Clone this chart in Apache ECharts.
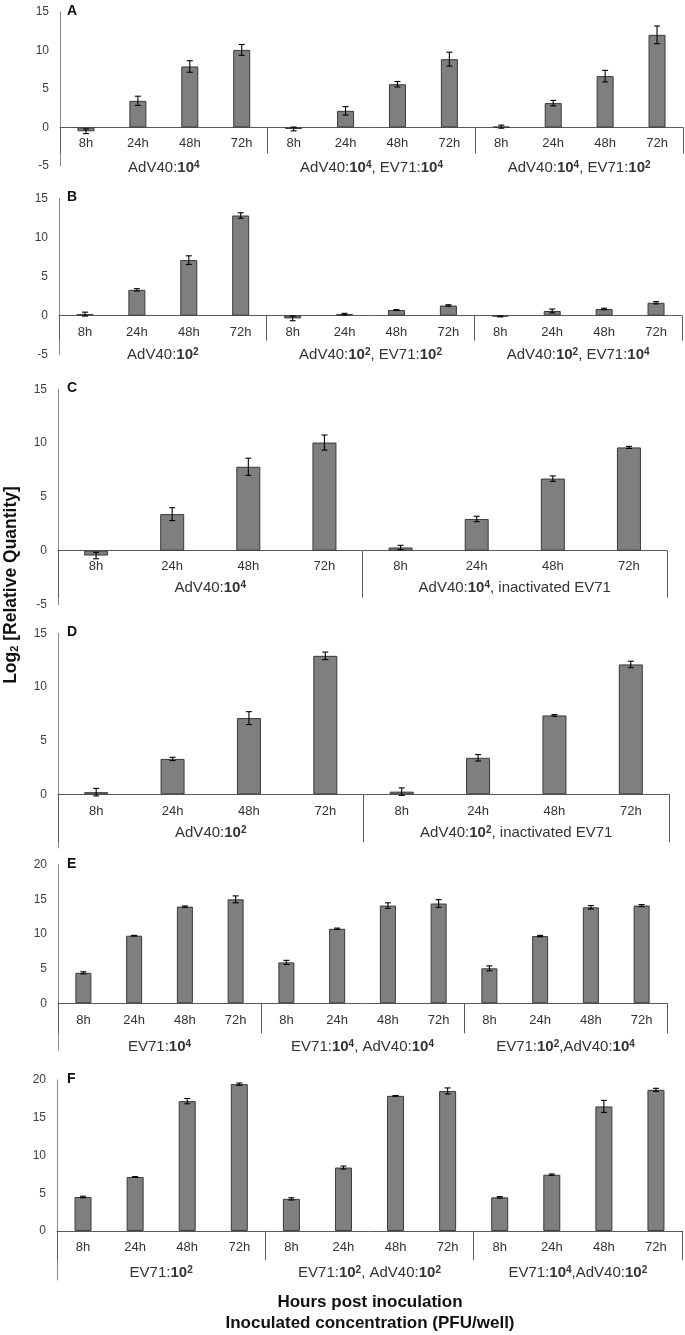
<!DOCTYPE html>
<html>
<head>
<meta charset="UTF-8">
<title>Log2 relative quantity by hours post inoculation</title>
<script src="https://cdn.jsdelivr.net/npm/echarts@6/dist/echarts.min.js"></script>
</head>
<body style="margin:0;background:#fff">
<div id="main" style="width:685px;height:1335px"></div>
<script>
// hour categories repeated inside each inoculation group
var hours = ['8h', '24h', '48h', '72h'];

var groupsA = ['AdV40:10^4', 'AdV40:10^4, EV71:10^4', 'AdV40:10^4, EV71:10^2'];
var valuesA = [-0.5, 3.45, 7.9, 10.05, -0.2, 2.15, 5.6, 8.85, 0.1, 3.15, 6.65, 12.0];
var errorsA = [0.3, 0.6, 0.75, 0.7, 0.25, 0.55, 0.35, 0.9, 0.2, 0.35, 0.75, 1.15];

var groupsB = ['AdV40:10^2', 'AdV40:10^2, EV71:10^2', 'AdV40:10^2, EV71:10^4'];
var valuesB = [0.2, 3.3, 7.1, 12.8, -0.35, 0.2, 0.72, 1.3, -0.1, 0.6, 0.85, 1.65];
var errorsB = [0.25, 0.15, 0.55, 0.35, 0.3, 0.1, 0.05, 0.1, 0.05, 0.25, 0.1, 0.15];

var groupsC = ['AdV40:10^4', 'AdV40:10^4, inactivated EV71'];
var valuesC = [-0.45, 3.4, 7.8, 10.05, 0.3, 2.95, 6.7, 9.6];
var errorsC = [0.3, 0.6, 0.8, 0.7, 0.2, 0.25, 0.25, 0.1];

var groupsD = ['AdV40:10^2', 'AdV40:10^2, inactivated EV71'];
var valuesD = [0.2, 3.3, 7.1, 12.9, 0.25, 3.4, 7.35, 12.1];
var errorsD = [0.35, 0.15, 0.6, 0.35, 0.35, 0.3, 0.08, 0.3];

var groupsE = ['EV71:10^4', 'EV71:10^4, AdV40:10^4', 'EV71:10^2,AdV40:10^4'];
var valuesE = [4.4, 9.75, 13.95, 15.0, 5.9, 10.75, 14.1, 14.4, 5.05, 9.7, 13.85, 14.1];
var errorsE = [0.15, 0.05, 0.1, 0.5, 0.3, 0.1, 0.4, 0.55, 0.35, 0.1, 0.25, 0.15];

var groupsF = ['EV71:10^2', 'EV71:10^2, AdV40:10^2', 'EV71:10^4,AdV40:10^2'];
var valuesF = [4.5, 7.15, 17.2, 19.45, 4.25, 8.4, 17.9, 18.55, 4.45, 7.45, 16.5, 18.7];
var errorsF = [0.1, 0.05, 0.35, 0.15, 0.15, 0.2, 0.05, 0.4, 0.1, 0.1, 0.8, 0.2];

var FONT = '"Liberation Sans", Arial, sans-serif';

// layout of each panel (pixel geometry)
// zeroY: where the value 0 sits; hour labels are placed relative to it
var panels = [
    {letter: 'A', groups: groupsA, values: valuesA, errors: errorsA, x0: 60, x1: 683, y0: 11.7, y1: 166, zeroY: 127.3, min: -5, max: 15, tick: 26, barW: 17, hourGap: 16, groupGap: 2, showNeg: true},
    {letter: 'B', groups: groupsB, values: valuesB, errors: errorsB, x0: 59, x1: 682, y0: 198.3, y1: 354.8, zeroY: 315.7, min: -5, max: 15, tick: 25, barW: 17, hourGap: 16.5, groupGap: 0, showNeg: true},
    {letter: 'C', groups: groupsC, values: valuesC, errors: errorsC, x0: 58, x1: 667, y0: 389.3, y1: 604.5, zeroY: 550.7, min: -5, max: 15, tick: 47, barW: 24, hourGap: 16, groupGap: -16.5, showNeg: true},
    {letter: 'D', groups: groupsD, values: valuesD, errors: errorsD, x0: 58, x1: 669, y0: 633.3, y1: 848, zeroY: 794.3, min: -5, max: 15, tick: 48, barW: 24, hourGap: 17, groupGap: -15, showNeg: false},
    {letter: 'E', groups: groupsE, values: valuesE, errors: errorsE, x0: 58, x1: 667, y0: 864.7, y1: 1050, zeroY: 1003.3, min: -6.74, max: 20, tick: 30, barW: 16, hourGap: 17, groupGap: -3, showNeg: false},
    {letter: 'F', groups: groupsF, values: valuesF, errors: errorsF, x0: 57, x1: 682, y0: 1080, y1: 1280, zeroY: 1231, min: -6.5, max: 20, tick: 29, barW: 17, hourGap: 16, groupGap: -7, showNeg: false}
];

function richGroup(s) {
    return s.replace(/10\^(\d)/g, '{b|10}{s|$1}');
}

function renderErr(params, api) {
    var x = api.value(0), v = api.value(1), e = api.value(2);
    var hi = api.coord([x, v + e]);
    var lo = api.coord([x, v - e]);
    var cw = 3;
    var st = {stroke: '#000', lineWidth: 1.1};
    return {
        type: 'group',
        children: [
            {type: 'line', shape: {x1: hi[0], y1: hi[1], x2: lo[0], y2: lo[1]}, style: st},
            {type: 'line', shape: {x1: hi[0] - cw, y1: hi[1], x2: hi[0] + cw, y2: hi[1]}, style: st},
            {type: 'line', shape: {x1: lo[0] - cw, y1: lo[1], x2: lo[0] + cw, y2: lo[1]}, style: st}
        ]
    };
}

var grids = [], xAxes = [], yAxes = [], series = [], titles = [];

panels.forEach(function (p, k) {
    var cats = [];
    p.groups.forEach(function () { cats = cats.concat(hours); });

    grids.push({left: p.x0, top: p.y0, width: p.x1 - p.x0, height: p.y1 - p.y0});

    // labels stay at the grid bottom, so pull them up to sit just under the zero line
    xAxes.push({
        type: 'category', gridIndex: k, data: cats, position: 'bottom',
        axisLine: {onZero: true, lineStyle: {color: '#5a5a5a', width: 1}},
        axisTick: {show: true, length: p.tick, interval: function (i) { return i % 4 === 0; },
            lineStyle: {color: '#5a5a5a', width: 1}},
        axisLabel: {interval: 0, fontSize: 13, color: '#333', margin: p.zeroY + p.hourGap - p.y1,
            verticalAlign: 'middle', fontFamily: FONT}
    });
    xAxes.push({
        type: 'category', gridIndex: k, data: p.groups, position: 'bottom',
        axisLine: {show: false, onZero: false}, axisTick: {show: false},
        axisLabel: {
            interval: 0, fontSize: 15, color: '#333', margin: p.groupGap, verticalAlign: 'middle', fontFamily: FONT,
            formatter: richGroup,
            rich: {
                b: {fontSize: 15, fontWeight: 'bold', color: '#333', fontFamily: FONT},
                s: {fontSize: 10, fontWeight: 'bold', color: '#333', verticalAlign: 'top', fontFamily: FONT}
            }
        }
    });
    yAxes.push({
        type: 'value', gridIndex: k, min: p.min, max: p.max, minInterval: 5, maxInterval: 5,
        splitLine: {show: false},
        axisLine: {show: true, onZero: false, lineStyle: {color: '#8c8c8c', width: 1}},
        axisTick: {show: false},
        axisLabel: {
            fontSize: 12, color: '#404040', margin: 11, fontFamily: FONT,
            formatter: function (v) {
                if (Math.abs(v % 5) > 1e-6) return '';
                if (v < 0 && !p.showNeg) return '';
                return String(v);
            }
        }
    });
    series.push({
        type: 'bar', xAxisIndex: 2 * k, yAxisIndex: k, data: p.values, barWidth: p.barW, silent: true,
        itemStyle: {color: '#7f7f7f', borderColor: '#3a3a3a', borderWidth: 1}
    });
    series.push({
        type: 'custom', xAxisIndex: 2 * k, yAxisIndex: k, renderItem: renderErr, silent: true, z: 5,
        encode: {x: 0, y: 1},
        data: p.values.map(function (v, i) { return [i, v, p.errors[i]]; })
    });
    titles.push({
        text: p.letter, left: 67, top: p.y0 - 8, padding: 0,
        textStyle: {fontSize: 14, fontWeight: 'bold', color: '#111', fontFamily: FONT}
    });
});

var chart = echarts.init(document.getElementById('main'), null, {renderer: 'canvas'});
chart.setOption({
    backgroundColor: '#fff',
    animation: false,
    textStyle: {fontFamily: FONT},
    title: titles,
    grid: grids,
    xAxis: xAxes,
    yAxis: yAxes,
    series: series,
    graphic: [
        {
            type: 'text', x: 11, y: 585, rotation: Math.PI / 2,
            style: {
                text: 'Log{sub|2} [Relative Quantity]',
                align: 'center', verticalAlign: 'middle',
                font: 'bold 17.5px ' + FONT, fill: '#111',
                rich: {sub: {fontSize: 11, fontWeight: 'bold', verticalAlign: 'bottom', fontFamily: FONT, fill: '#111'}}
            }
        },
        {
            type: 'text', x: 370, y: 1302,
            style: {text: 'Hours post inoculation', align: 'center', verticalAlign: 'middle', font: 'bold 17px ' + FONT, fill: '#111'}
        },
        {
            type: 'text', x: 370, y: 1323,
            style: {text: 'Inoculated concentration (PFU/well)', align: 'center', verticalAlign: 'middle', font: 'bold 17px ' + FONT, fill: '#111'}
        }
    ]
});
</script>
</body>
</html>
